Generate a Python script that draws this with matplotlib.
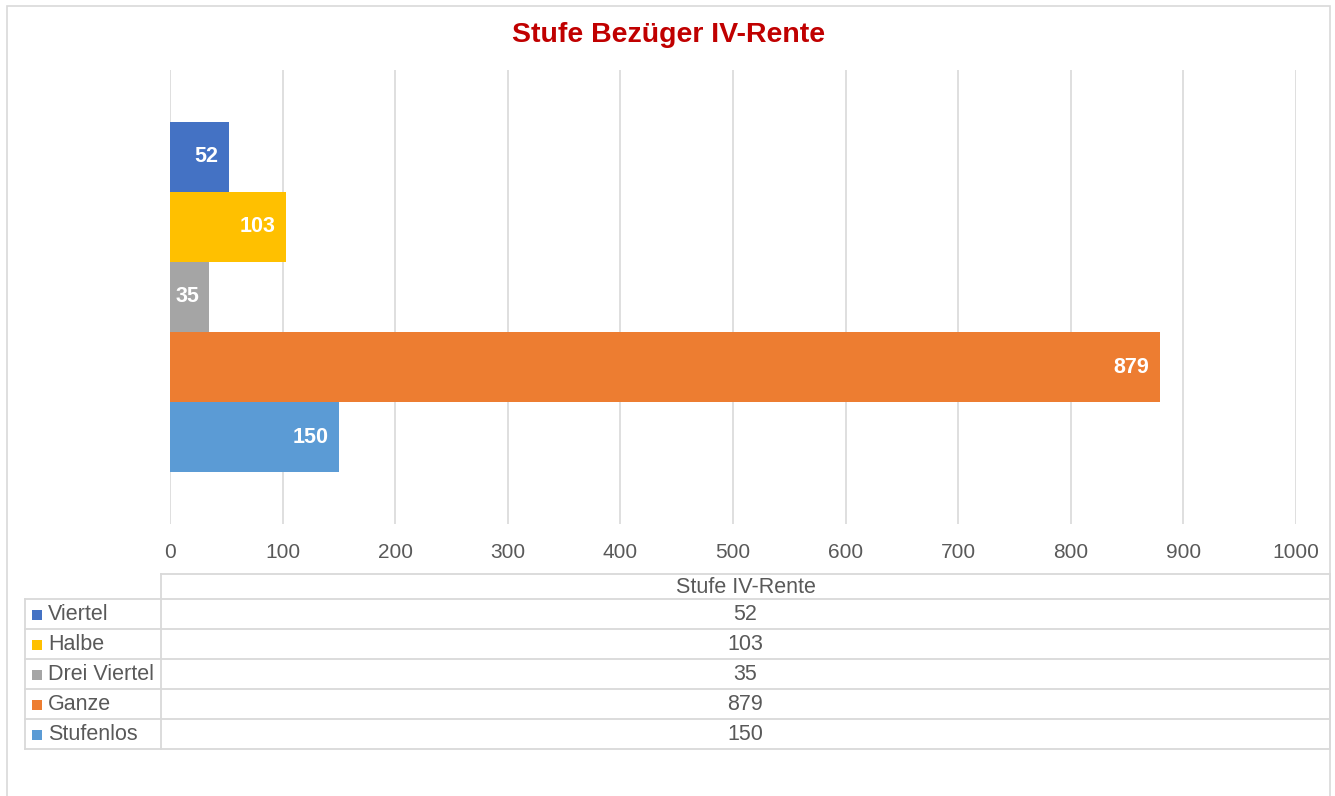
import matplotlib
matplotlib.use("Agg")
import matplotlib.pyplot as plt
from matplotlib.patches import Rectangle
from matplotlib.lines import Line2D

categories = ["Viertel", "Halbe", "Drei Viertel", "Ganze", "Stufenlos"]
values = [52, 103, 35, 879, 150]
colors = ["#4472C4", "#FFC000", "#A5A5A5", "#ED7D31", "#5B9BD5"]
xticks = [0, 100, 200, 300, 400, 500, 600, 700, 800, 900, 1000]
title = "Stufe Bezüger IV-Rente"
table_header = "Stufe IV-Rente"

W, H = 1335, 796
plt.rcParams["font.family"] = ["Liberation Sans", "DejaVu Sans"]
fig = plt.figure(figsize=(W / 100, H / 100), dpi=100)
fig.patch.set_facecolor("white")

def fx(px):
    return px / W

def fy(py):
    return 1 - py / H

grey = "#595959"
line_c = "#D9D9D9"

# outer chart border
fig.add_artist(Rectangle((fx(7), fy(800)), fx(1330) - fx(7), fy(6) - fy(800),
                         transform=fig.transFigure, fill=False, edgecolor=line_c, lw=1.2))

# title
fig.text(fx(669), fy(35), title, ha="center", va="center", color="#C00000",
         fontsize=20.5, fontweight="bold")

# main axes
ax = fig.add_axes([fx(170), fy(524), fx(1296) - fx(170), fy(70) - fy(524)])
ypos = list(range(len(categories)))
ax.barh(ypos, values, height=1.0, color=colors)
ax.set_xlim(0, 1000)
ax.set_ylim(2 + 3.24, 2 - 3.24)
ax.set_xticks(xticks)
ax.set_xticklabels([str(t) for t in xticks], fontsize=15, color=grey)
ax.tick_params(axis="x", length=0, pad=14)
ax.set_yticks([])
for s in ax.spines.values():
    s.set_visible(False)
ax.grid(axis="x", color=line_c, lw=1.2)
ax.set_axisbelow(True)
for y, v in zip(ypos, values):
    ax.text(v - 9, y, str(v), ha="right", va="center", color="white",
            fontsize=15.5, fontweight="bold")

# data table
tab = fig.add_axes([0, 0, 1, 1], facecolor="none")
tab.set_xlim(0, W)
tab.set_ylim(H, 0)
tab.axis("off")
lw = 1.3
x_leg, x_mid, x_right = 25, 161, 1330
y_head = 574
row_tops = [599, 629, 659, 689, 719, 749]
tab.add_line(Line2D([x_mid, x_right], [y_head, y_head], color=line_c, lw=lw))
tab.add_line(Line2D([x_mid, x_mid], [y_head, row_tops[-1]], color=line_c, lw=lw))
tab.add_line(Line2D([x_right, x_right], [y_head, row_tops[-1]], color=line_c, lw=lw))
tab.add_line(Line2D([x_leg, x_leg], [row_tops[0], row_tops[-1]], color=line_c, lw=lw))
for yl in row_tops:
    tab.add_line(Line2D([x_leg, x_right], [yl, yl], color=line_c, lw=lw))
xc = (x_mid + x_right) / 2
tab.text(xc, (y_head + row_tops[0]) / 2 + 1, table_header, ha="center", va="center",
         fontsize=15.5, color=grey)
for i, (cat, v, c) in enumerate(zip(categories, values, colors)):
    yc = (row_tops[i] + row_tops[i + 1]) / 2 + 1
    tab.add_patch(Rectangle((32, yc - 5), 10, 10, facecolor=c, edgecolor="none"))
    tab.text(48, yc, cat, ha="left", va="center", fontsize=15.5, color=grey)
    tab.text(xc, yc, str(v), ha="center", va="center", fontsize=15.5, color=grey)

fig.savefig("out.png", dpi=100, facecolor="white")
